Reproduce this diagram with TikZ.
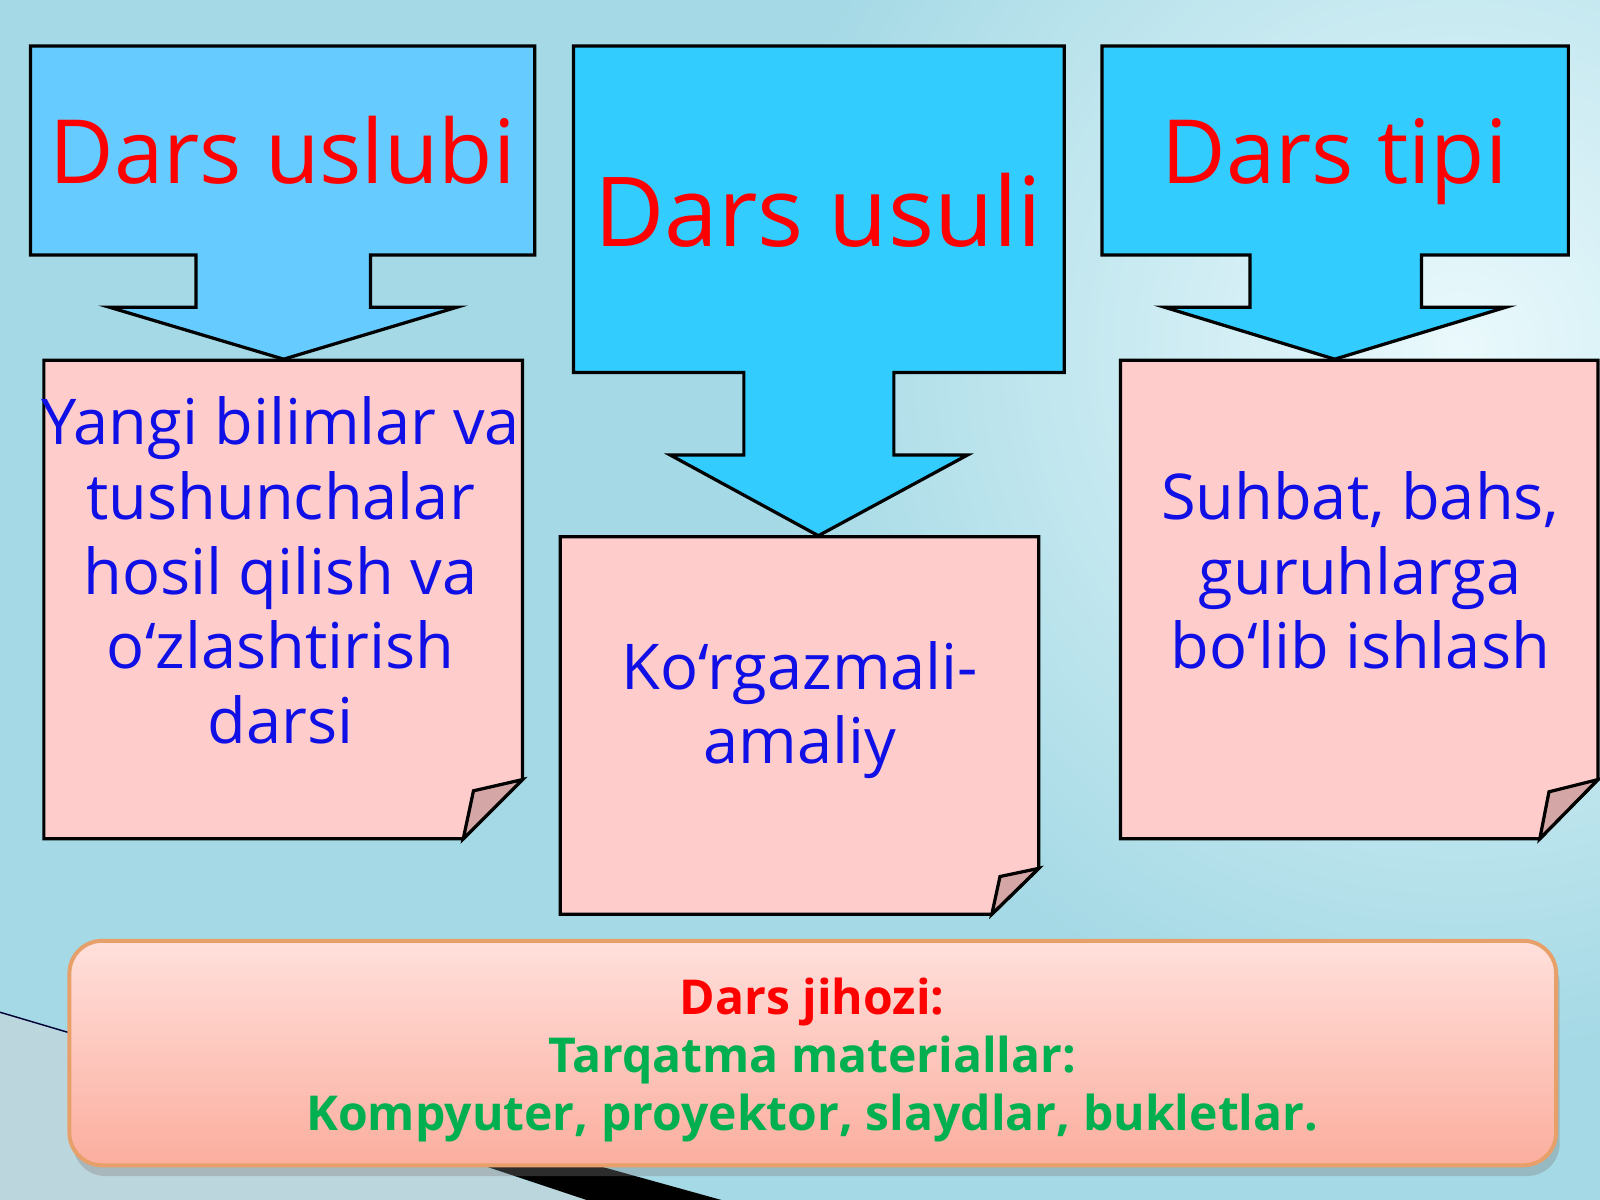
\documentclass[tikz,border=0pt]{standalone}
\usepackage{fontspec}
\setmainfont{Open Sans}
\usepackage{tikz}
\usetikzlibrary{positioning}
\usetikzlibrary{shadows}

\definecolor{bgblue}{HTML}{A4D9E5}
\definecolor{bglight}{HTML}{EAF9FC}
\definecolor{bggrey}{HTML}{BCD6DD}
\definecolor{calloutpale}{HTML}{66CCFF}
\definecolor{calloutcyan}{HTML}{33CCFF}
\definecolor{notepink}{HTML}{FFCCCC}
\definecolor{notefold}{HTML}{D4A6A6}
\definecolor{headred}{HTML}{FF0000}
\definecolor{textblue}{HTML}{1010E6}
\definecolor{textgreen}{HTML}{00B050}
\definecolor{boxedge}{HTML}{E8A06A}
\definecolor{boxtop}{HTML}{FFE0DC}
\definecolor{boxbottom}{HTML}{FBAE9E}

\begin{document}
\begin{tikzpicture}[x=0.01cm, y=-0.01cm,
                calloutnode/.style={draw, line width=0.9pt},
                notenode/.style={draw, line width=0.9pt, fill=notepink},
                foldnode/.style={draw, line width=0.9pt, fill=notefold},
                headtext/.style={text=headred, inner sep=0pt, font=\fontsize{24.7}{29}\selectfont},
                notetext/.style={text=textblue, align=center, inner sep=0pt, font=\fontsize{17.6}{20.8}\selectfont},
                equiptext/.style={align=center, inner sep=0pt, font=\bfseries\fontsize{13.4}{16.2}\selectfont},
            ]
            \useasboundingbox (0,0) rectangle (1568,1176);

            % Background
            \begin{scope}
                \clip (0,0) rectangle (1568,1176);
                \fill[bgblue] (0,0) rectangle (1568,1176);
                \shade[inner color=bglight, outer color=bgblue] (1430,340) circle (700);
                \fill[bggrey] (0,992) -- (575,1176) -- (0,1176) -- cycle;
                \fill[black] (440,1131) -- (545,1131) -- (707,1176) -- (575,1176) -- cycle;
                \draw[black!80!blue, thin] (0,992) -- (470,1131);
            \end{scope}

            % Callouts
            \draw[calloutnode, fill=calloutpale] (30,45) -- (524,45) -- (524,250) -- (363,250) -- (363,301) -- (448,301)
                -- (278,352) coordinate (uslubi_tip) -- (107,301) -- (192,301) -- (192,250) -- (30,250) -- cycle;
            \draw[calloutnode, fill=calloutcyan] (562,45) -- (1043,45) -- (1043,365) -- (876,365) -- (876,446) -- (948,446)
                -- (802,525) coordinate (usuli_tip) -- (657,446) -- (729,446) -- (729,365) -- (562,365) -- cycle;
            \draw[calloutnode, fill=calloutcyan] (1080,45) -- (1537,45) -- (1537,250) -- (1393,250) -- (1393,301) -- (1476,301)
                -- (1308,352) coordinate (tipi_tip) -- (1141,301) -- (1225,301) -- (1225,250) -- (1080,250) -- cycle;

            % Notes
            \draw[notenode] (43,353) -- (512,353) -- (512,764) -- (454,822) -- (43,822) -- cycle;
            \draw[foldnode] (454,822) -- (464,775) -- (512,764) -- cycle;
            \draw[notenode] (549,526) -- (1018,526) -- (1018,851) -- (972,896) -- (549,896) -- cycle;
            \draw[foldnode] (972,896) -- (980,859) -- (1018,851) -- cycle;
            \draw[notenode] (1098,353) -- (1566,353) -- (1566,764) -- (1509,822) -- (1098,822) -- cycle;
            \draw[foldnode] (1509,822) -- (1518,776) -- (1566,764) -- cycle;

            % Bottom box
            \draw[line width=1.1pt, draw=boxedge, top color=boxtop, bottom color=boxbottom, rounded corners=0.32cm,
                drop shadow={shadow xshift=1pt, shadow yshift=-3pt, opacity=0.35}]
                (68,922) rectangle (1525,1142);

            % Nodes
            \node[headtext, anchor=base]     (uslubi)      at (277,180)     {Dars uslubi};
            \node[headtext, anchor=base, font=\fontsize{26.9}{31}\selectfont] (usuli) at (802,242) {Dars usuli};
            \node[headtext, anchor=base]     (tipi)        at (1308,180)    {Dars tipi};

            \node[notetext]     (uslubi_text)     at (275,559)     {Yangi bilimlar va\\tushunchalar\\hosil qilish va\\o‘zlashtirish\\darsi};
            \node[notetext]     (usuli_text)      at (784,696)     {Ko‘rgazmali-\\amaliy};
            \node[notetext]     (tipi_text)       at (1333,559)    {Suhbat, bahs,\\guruhlarga\\bo‘lib ishlash};

            \node[equiptext]    (jihoz)           at (796,1039)    {\textcolor{headred}{Dars jihozi:}\\
                \textcolor{textgreen}{Tarqatma materiallar:}\\
                \textcolor{textgreen}{Kompyuter, proyektor, slaydlar, bukletlar.}};
        \end{tikzpicture}
\end{document}
